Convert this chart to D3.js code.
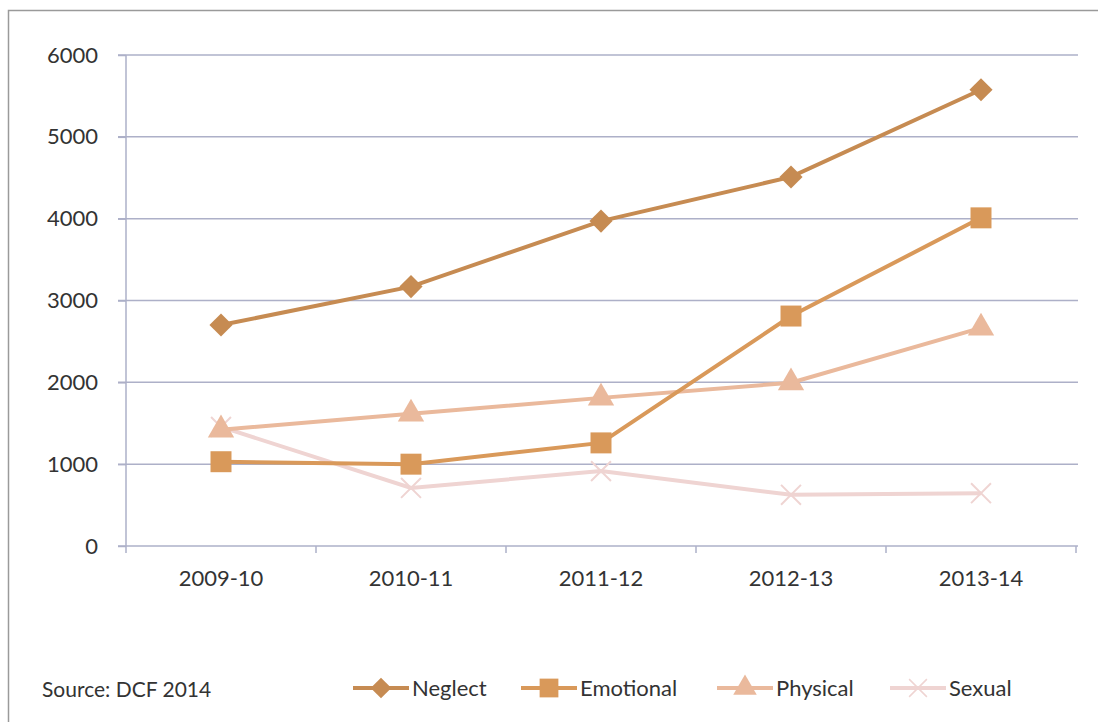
<!DOCTYPE html>
<html>
<head>
<meta charset="utf-8">
<script src="https://cdn.jsdelivr.net/npm/d3@7"></script>
<style>
  body { margin: 0; background: #fff; }
  svg { display: block; font-family: Lato, 'Open Sans', sans-serif; }
</style>
</head>
<body>
<svg id="chart" width="1098" height="722"></svg>
<script>
const years = ['2009-10', '2010-11', '2011-12', '2012-13', '2013-14'];
const neglect = [2700, 3170, 3970, 4510, 5575];
const emotional = [1030, 1000, 1260, 2810, 4010];
const physical = [1420, 1615, 1810, 1995, 2665];
const sexual = [1455, 710, 915, 625, 645];
const yTicks = [0, 1000, 2000, 3000, 4000, 5000, 6000];

const series = [
  { name: 'Neglect', values: neglect, color: '#c68b52', symbol: d3.symbolDiamond2, size: 340 },
  { name: 'Emotional', values: emotional, color: '#d9995a', symbol: d3.symbolSquare, size: 440 },
  { name: 'Physical', values: physical, color: '#eab99c', symbol: d3.symbolTriangle, size: 300 },
  { name: 'Sexual', values: sexual, color: '#efd4d2', symbol: d3.symbolX, size: 260 },
];

const svg = d3.select('#chart');
const font = 'Lato, "Open Sans", sans-serif';

// outer frame
svg.append('rect')
  .attr('x', 8.5).attr('y', 10.5)
  .attr('width', 1120).attr('height', 740)
  .attr('fill', 'none').attr('stroke', '#9a9a9a').attr('stroke-width', 1.5);

const plotLeft = 126, plotRight = 1076, plotTop = 55, plotBottom = 546;

const x = d3.scaleBand().domain(years).range([plotLeft, plotRight]);
const y = d3.scaleLinear().domain([0, 6000]).range([plotBottom, plotTop]);

// gridlines
svg.append('g')
  .selectAll('line')
  .data(yTicks)
  .join('line')
  .attr('x1', plotLeft - 8).attr('x2', plotRight + 2)
  .attr('y1', d => y(d)).attr('y2', d => y(d))
  .attr('stroke', '#adb0c8').attr('stroke-width', 1.5);

// y axis
const yAxis = svg.append('g')
  .attr('transform', `translate(${plotLeft},0)`)
  .call(d3.axisLeft(y).tickValues(yTicks).tickFormat(d3.format('d')).tickSize(8).tickPadding(20));
yAxis.attr('font-family', font);
yAxis.select('.domain').attr('stroke', '#adb0c8').attr('stroke-width', 1.5).attr('d', `M0,${plotTop}V${plotBottom}`);
yAxis.selectAll('.tick line').attr('stroke', '#adb0c8').attr('stroke-width', 1.5);
yAxis.selectAll('text').attr('font-size', 22).attr('fill', '#333');

// x axis
const xAxis = svg.append('g')
  .attr('transform', `translate(0,${plotBottom})`)
  .call(d3.axisBottom(x).tickSize(0).tickPadding(24));
xAxis.attr('font-family', font);
xAxis.select('.domain').remove();
xAxis.selectAll('text').attr('font-size', 22).attr('fill', '#333');
svg.append('g')
  .selectAll('line')
  .data(years.concat(['end']))
  .join('line')
  .attr('x1', (d, i) => plotLeft + i * x.bandwidth())
  .attr('x2', (d, i) => plotLeft + i * x.bandwidth())
  .attr('y1', plotBottom).attr('y2', plotBottom + 7)
  .attr('stroke', '#adb0c8').attr('stroke-width', 1.5);

const line = d3.line()
  .x((d, i) => x(years[i]) + x.bandwidth() / 2)
  .y(d => y(d));

// draw from back to front so Neglect is on top
const drawOrder = series.slice().reverse();
drawOrder.forEach(s => {
  const g = svg.append('g');
  g.append('path')
    .datum(s.values)
    .attr('d', line)
    .attr('fill', 'none')
    .attr('stroke', s.color)
    .attr('stroke-width', 4);
  g.selectAll('path.mark')
    .data(s.values)
    .join('path')
    .attr('class', 'mark')
    .attr('transform', (d, i) => `translate(${x(years[i]) + x.bandwidth() / 2},${y(d)})`)
    .attr('d', d3.symbol(s.symbol, s.size))
    .attr('fill', s.symbol === d3.symbolX ? 'none' : s.color)
    .attr('stroke', s.color)
    .attr('stroke-width', s.symbol === d3.symbolX ? 2 : 0);
});

// legend
const legendX = [353, 521, 717, 890];
const legend = svg.append('g');
series.forEach((s, i) => {
  const lg = legend.append('g').attr('transform', `translate(${legendX[i]},688)`);
  lg.append('line')
    .attr('x1', 0).attr('x2', 56)
    .attr('stroke', s.color).attr('stroke-width', 4);
  lg.append('path')
    .attr('transform', 'translate(28,0)')
    .attr('d', d3.symbol(s.symbol, s.size * 0.8))
    .attr('fill', s.symbol === d3.symbolX ? 'none' : s.color)
    .attr('stroke', s.color)
    .attr('stroke-width', s.symbol === d3.symbolX ? 1.5 : 0);
  lg.append('text')
    .attr('x', 59).attr('y', 8)
    .attr('font-size', 22).attr('fill', '#333')
    .text(s.name);
});

svg.append('text')
  .attr('x', 42).attr('y', 697)
  .attr('font-size', 21).attr('fill', '#333')
  .text('Source: DCF 2014');
</script>
</body>
</html>
